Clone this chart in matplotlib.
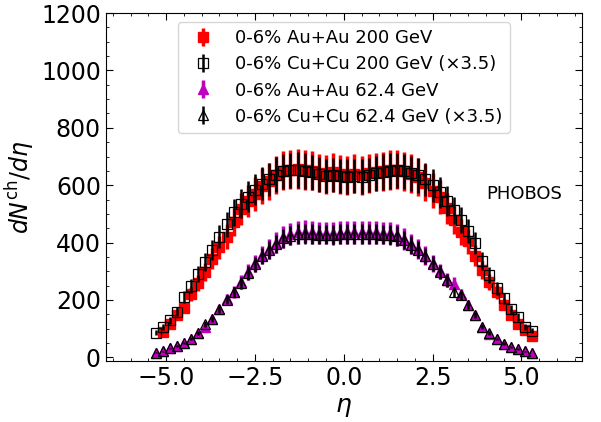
import numpy as np
import matplotlib.pyplot as plt

# pseudorapidity bin centers
eta = [-5.3, -5.1, -4.9, -4.7, -4.5, -4.3, -4.1, -3.9, -3.7, -3.5, -3.3, -3.1,
       -2.9, -2.7, -2.5, -2.3, -2.1, -1.9, -1.7, -1.5, -1.3, -1.1, -0.9, -0.7,
       -0.5, -0.3, -0.1, 0.1, 0.3, 0.5, 0.7, 0.9, 1.1, 1.3, 1.5, 1.7, 1.9, 2.1,
       2.3, 2.5, 2.7, 2.9, 3.1, 3.3, 3.5, 3.7, 3.9, 4.1, 4.3, 4.5, 4.7, 4.9,
       5.1, 5.3]

# Au+Au 200 GeV (first bin -5.3 missing)
auau200 = [89, 116, 148, 173, 221, 260, 298, 344, 384, 421, 471,
           517, 545, 570, 598, 614, 636, 650, 654, 656, 653, 651, 643,
           637, 645, 638, 634, 640, 634, 641, 646, 649, 653, 654, 648, 640, 630,
           609, 580, 560, 520, 479, 437, 404, 354, 305, 264, 229, 183, 148, 116,
           95, 75]

# Cu+Cu 200 GeV x3.5
cucu200 = [86, 107, 130, 159, 210, 248, 291, 331, 375, 421, 464, 505,
           535, 560, 585, 605, 620, 637, 648, 652, 654, 650, 645, 638,
           633, 636, 632, 630, 633, 630, 636, 641, 646, 650, 652, 648, 642, 634,
           620, 600, 575, 545, 512, 479, 440, 400, 335, 287, 241, 206, 168, 140,
           107, 92]

# Au+Au 62.4 GeV
auau62 = [16, 22, 31, 39, 51, 65, 84, 105, 133, 167, 203, 229,
          262, 298, 328, 357, 377, 400, 420, 430, 436, 438, 436, 433,
          433, 433, 435, 436, 436, 436, 436, 436, 433, 433, 428, 413, 396, 378,
          355, 328, 300, 270, 257, 220, 183, 148, 105, 82, 64, 48, 36, 29,
          22, 15]

# Cu+Cu 62.4 GeV x3.5
cucu62 = [16, 22, 31, 39, 51, 65, 86, 116, 135, 167, 201, 227,
          260, 295, 325, 354, 374, 396, 415, 424, 429, 431, 430, 428,
          428, 427, 429, 430, 430, 430, 431, 431, 428, 427, 423, 409, 393, 375,
          352, 326, 298, 268, 228, 218, 183, 148, 107, 84, 64, 48, 36, 29,
          22, 15]

# relative systematic errors
rel_err = {'auau200': 0.105, 'cucu200': 0.095, 'auau62': 0.09, 'cucu62': 0.08}

labels = ['0-6% Au+Au 200 GeV', '0-6% Cu+Cu 200 GeV (×3.5)',
          '0-6% Au+Au 62.4 GeV', '0-6% Cu+Cu 62.4 GeV (×3.5)']


def main():
    fig, ax = plt.subplots(figsize=(6.01, 4.22), dpi=100)
    fig.subplots_adjust(left=0.176, right=0.968, top=0.969, bottom=0.145)

    x_all = np.array(eta)
    x_au200 = x_all[1:]

    y = np.array(auau200, dtype=float)
    ax.errorbar(x_au200, y, yerr=rel_err['auau200'] * y, fmt='s', color='r',
                ms=6.5, elinewidth=2.5, capsize=0, label=labels[0], zorder=2)

    y = np.array(cucu200, dtype=float)
    ax.errorbar(x_all, y, yerr=rel_err['cucu200'] * y, fmt='s', color='k',
                mfc='none', mec='k', ms=6.5, mew=0.9, elinewidth=1.8,
                capsize=0, label=labels[1], zorder=3)

    y = np.array(auau62, dtype=float)
    ax.errorbar(x_all, y, yerr=rel_err['auau62'] * y, fmt='^', color='m',
                ms=7.5, elinewidth=2.5, capsize=0, label=labels[2], zorder=2)

    y = np.array(cucu62, dtype=float)
    ax.errorbar(x_all, y, yerr=rel_err['cucu62'] * y, fmt='^', color='k',
                mfc='none', mec='k', ms=7.5, mew=0.9, elinewidth=1.8,
                capsize=0, label=labels[3], zorder=3)

    ax.set_xlim(-6.7, 6.7)
    ax.set_ylim(-12, 1200)
    ax.set_xticks([-5.0, -2.5, 0.0, 2.5, 5.0])
    ax.set_yticks([0, 200, 400, 600, 800, 1000, 1200])
    ax.minorticks_on()
    ax.tick_params(which='both', direction='in', top=True, right=True)
    ax.tick_params(which='major', labelsize=17, length=5)
    ax.tick_params(which='minor', length=2.5)

    ax.set_xlabel(r'$\eta$', fontsize=18)
    ax.set_ylabel(r'$dN^{\rm ch}/d\eta$', fontsize=17, labelpad=3)

    ax.text(0.88, 0.48, 'PHOBOS', transform=ax.transAxes, fontsize=13,
            ha='center', va='center')

    ax.legend(loc='upper center', fontsize=13, labelspacing=0.45)

    plt.savefig('out.png', dpi=100)
    plt.close()


if __name__ == "__main__":
    main()
